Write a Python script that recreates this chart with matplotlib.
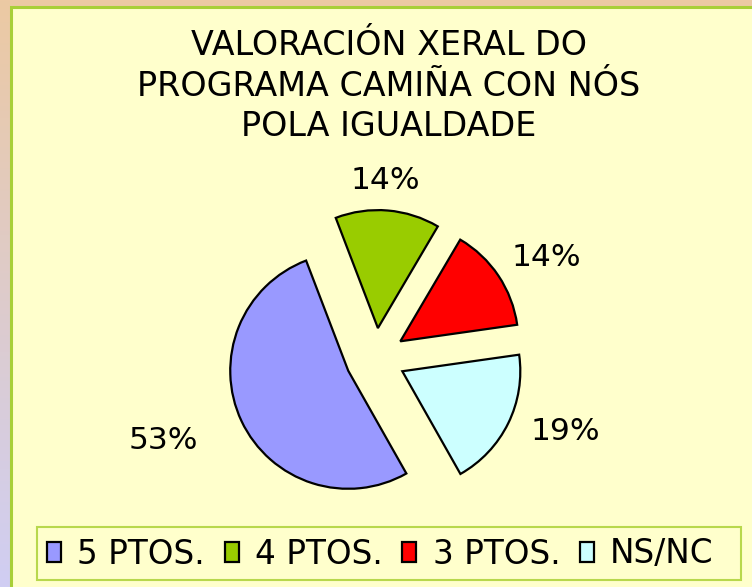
import numpy as np
import matplotlib.pyplot as plt
from matplotlib.patches import Rectangle

# ---- data ----
categories = ['5 PTOS.', '4 PTOS.', '3 PTOS.', 'NS/NC']
counts = [11, 3, 3, 4]
pct_labels = ['53%', '14%', '14%', '19%']
title = 'VALORACIÓN XERAL DO\nPROGRAMA CAMIÑA CON NÓS\nPOLA IGUALDADE'

# ---- style ----
colors = ['#9999FF', '#99CC00', '#FF0000', '#CCFFFF']
panel_color = '#FFFFCC'
border_green = '#A8CF38'
W, H = 752, 587
R_PX = 118.0            # pie radius in pixels
CX, CY = 375.4, 358.0   # pie centre in pixels (from top-left)
label_dist = [1.933, 1.503, 1.68, 1.725]
label_ang = [3.9, -1.7, 3.2, -4.9]
FS = 22.5

plt.rcParams['font.family'] = ['DejaVu Sans']

fig = plt.figure(figsize=(W / 100, H / 100), dpi=100)

# background gradient + panel
bg = fig.add_axes([0, 0, 1, 1])
bg.axis('off')
t = np.linspace(0, 1, 256)[:, None, None]
top = np.array([236, 201, 163]) / 255
bot = np.array([208, 206, 243]) / 255
grad = top * (1 - t) + bot * t
bg.imshow(grad, aspect='auto', extent=[0, 1, 0, 1])
bg.set_xlim(0, 1)
bg.set_ylim(0, 1)
bg.add_patch(Rectangle((11 / W, -0.1), 1.2, (H - 7) / H + 0.1,
                       facecolor=panel_color, edgecolor=border_green, lw=2.2))
# legend frame
bg.add_patch(Rectangle((37 / W, 1 - 580 / H), (741 - 37) / W, (580 - 527) / H,
                       facecolor='none', edgecolor='#B8D84C', lw=1.5))

# pie axes scaled so 1 data unit = R_PX pixels
ax = fig.add_axes([0, 0, 1, 1])
ax.set_zorder(2)
ax.patch.set_alpha(0)
wedges, _ = ax.pie(counts, colors=colors, startangle=-60.5, counterclock=False,
                   explode=[30 / R_PX] * 4, radius=1,
                   wedgeprops=dict(edgecolor='black', linewidth=1.6))
ax.set_aspect('auto')
ax.set_xlim(-CX / R_PX, (W - CX) / R_PX)
ax.set_ylim(-(H - CY) / R_PX, CY / R_PX)
ax.axis('off')

for w, lab, d, a in zip(wedges, pct_labels, label_dist, label_ang):
    mid = np.deg2rad((w.theta1 + w.theta2) / 2 - a)
    ax.text(d * np.cos(mid), d * np.sin(mid), lab, ha='center', va='center',
            fontsize=FS, color='black')

fig.text(389 / W, 1 - 86 / H, title, ha='center', va='center', fontsize=24,
         linespacing=1.28, color='black')

leg = ax.legend(wedges, categories, loc='center left',
                bbox_to_anchor=(47 / W, 1 - 554 / H),
                bbox_transform=fig.transFigure, ncol=4,
                fontsize=23.5, handlelength=0.43, handleheight=0.55,
                handletextpad=0.5, columnspacing=0.6, borderaxespad=0,
                borderpad=0, frameon=False)

fig.savefig('out.png', dpi=100)
